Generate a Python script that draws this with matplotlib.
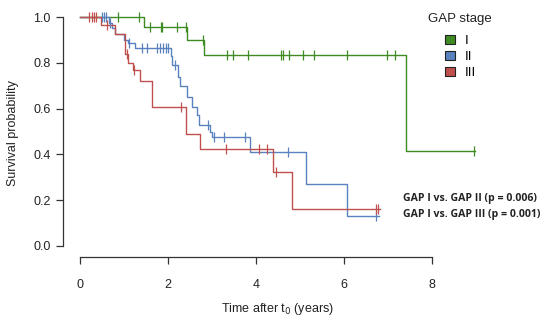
import numpy as np
import matplotlib
matplotlib.use("Agg")
import matplotlib.pyplot as plt
from matplotlib.patches import Patch

plt.rcParams['font.family'] = ['Liberation Sans', 'DejaVu Sans']

# ---- data ----
groups = ["I", "II", "III"]
colors = {"I": "#3d8b22", "II": "#5a82c0", "III": "#c0504d"}

g1_t = [0.0, 1.45, 2.43, 2.82, 7.41]
g1_s = [1.0, 0.956, 0.90, 0.834, 0.415]
g1_end = 8.98
g1_cens = [0.86, 1.34, 1.59, 1.84, 1.86, 2.2, 2.40, 2.8, 3.34, 3.48, 3.82,
           4.57, 4.61, 4.75, 5.07, 5.32, 6.07, 6.98, 7.16, 8.95]

g2_t = [0.0, 0.66, 0.72, 0.8, 1.0, 1.1, 1.25, 2.07, 2.1, 2.22, 2.28, 2.43,
        2.55, 2.66, 2.7, 2.95, 3.0, 3.86, 5.14, 6.07]
g2_s = [1.0, 0.975, 0.95, 0.925, 0.90, 0.885, 0.865, 0.83, 0.79, 0.74, 0.70,
        0.65, 0.607, 0.57, 0.528, 0.50, 0.476, 0.41, 0.27, 0.131]
g2_end = 6.8
g2_cens = [0.5, 0.55, 0.6, 0.68, 1.12, 1.4, 1.52, 1.75, 1.82, 1.88, 1.95, 2.0,
           2.15, 2.92, 3.05, 3.27, 3.75, 4.73, 6.73]

g3_t = [0.0, 0.48, 0.8, 1.02, 1.1, 1.2, 1.36, 1.64, 2.4, 2.73, 4.39, 4.82]
g3_s = [1.0, 0.965, 0.925, 0.84, 0.80, 0.77, 0.72, 0.607, 0.49, 0.424, 0.323, 0.16]
g3_end = 6.82
g3_cens = [0.2, 0.27, 0.31, 0.36, 0.62, 1.07, 1.22, 2.3, 3.32, 4.07, 4.25,
           4.45, 6.72, 6.77]

curves = {"I": (g1_t, g1_s, g1_end, g1_cens),
          "II": (g2_t, g2_s, g2_end, g2_cens),
          "III": (g3_t, g3_s, g3_end, g3_cens)}

xticks = [0, 2, 4, 6, 8]
yticks = [0.0, 0.2, 0.4, 0.6, 0.8, 1.0]
legend_title = "GAP stage"
pvals = ["GAP I vs. GAP II (p = 0.006)", "GAP I vs. GAP III (p = 0.001)"]

# ---- figure ----
W, H = 550, 326
fig = plt.figure(figsize=(W / 100, H / 100), dpi=100)
fig.patch.set_facecolor("white")

left_px, right_px, top_px, bot_px = 63, 492, 10, 257
ax = fig.add_axes([left_px / W, 1 - bot_px / H, (right_px - left_px) / W,
                   (bot_px - top_px) / H])
xpx0, xscale = 80, 44.0
ypx1, yscale = 17, 229.0
ax.set_xlim(-(xpx0 - left_px) / xscale, (right_px - xpx0) / xscale)
ax.set_ylim(1 - (bot_px - ypx1) / yscale, 1 + (ypx1 - top_px) / yscale)

for g in groups:
    t, s, end, cens = curves[g]
    tt = list(t) + [end]
    ss = list(s) + [s[-1]]
    ax.step(tt, ss, where="post", color=colors[g], lw=1.0, zorder=3)
    idx = np.searchsorted(np.array(t), np.array(cens), side="right") - 1
    cy = np.array(s)[idx]
    ax.plot(cens, cy, ls="none", marker="|", ms=7, mew=0.9,
            color=colors[g], zorder=4)

for sp in ["top", "right"]:
    ax.spines[sp].set_visible(False)
ax.spines["left"].set_bounds(0, 1)
ax.spines["bottom"].set_bounds(0, 8)
for sp in ["left", "bottom"]:
    ax.spines[sp].set_color("#333333")
    ax.spines[sp].set_linewidth(0.9)
ax.set_xticks(xticks)
ax.set_xticklabels([str(v) for v in xticks])
ax.set_yticks(yticks)
ax.set_yticklabels([f"{v:.1f}" for v in yticks])
ax.tick_params(axis="both", direction="out", length=5, width=0.9,
               color="#333333", labelsize=9, labelcolor="#222222", pad=4)
ax.tick_params(axis="x", pad=11)
ax.set_xlabel("Time after t$_0$ (years)", fontsize=9, color="#222222", labelpad=7)
ax.set_ylabel("Survival probability", fontsize=9, color="#222222", labelpad=10)

fig.text(428 / W, 1 - 19 / H, legend_title, fontsize=9.5, color="#222222",
         va="center", ha="left")
handles = [Patch(facecolor=colors[g], edgecolor="#222222", lw=0.8, label=g)
           for g in groups]
leg = fig.legend(handles=handles, loc="upper left",
                 bbox_to_anchor=(433 / W, 1 - 23 / H), frameon=False,
                 fontsize=9.5, handlelength=0.8, handleheight=0.7,
                 handletextpad=0.7, labelspacing=0.28)

for i, txt in enumerate(pvals):
    fig.text(403 / W, 1 - (198 + 16 * i) / H, txt, fontsize=7.6,
             fontweight="bold", color="#222222", va="center", ha="left",
             family=["Open Sans", "DejaVu Sans"])

fig.savefig("out.png", dpi=100, facecolor="white")
